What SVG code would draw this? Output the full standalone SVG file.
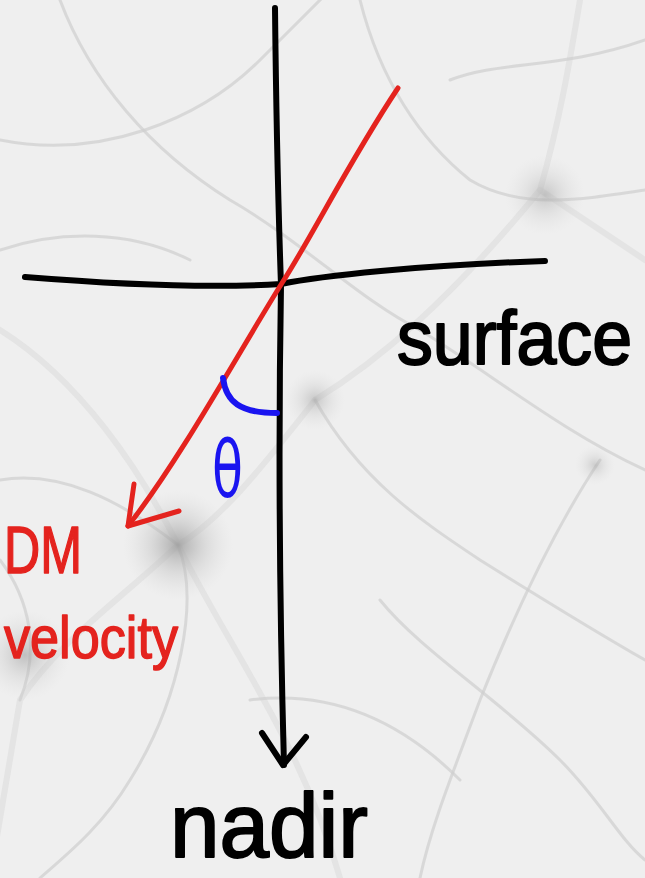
<svg xmlns="http://www.w3.org/2000/svg" width="645" height="878" viewBox="0 0 645 878">
<defs>
<radialGradient id="blob">
<stop offset="0" stop-color="#9a9a9a" stop-opacity="0.8"/>
<stop offset="0.5" stop-color="#bdbdbd" stop-opacity="0.4"/>
<stop offset="1" stop-color="#d8d8d8" stop-opacity="0"/>
</radialGradient>
<style>
.web{fill:none;stroke:#cfcfcf;stroke-width:3;stroke-linecap:round;opacity:0.7}
.web2{fill:none;stroke:#dcdcdc;stroke-width:6;stroke-linecap:round;opacity:0.6}
.ink{fill:none;stroke-linecap:round;stroke-linejoin:round}
.black{stroke:#000;stroke-width:6}
.red{stroke:#e4231e;stroke-width:5}
.blue{stroke:#1a14f0;stroke-width:6}
.hand{font-family:"Liberation Sans","Arial",sans-serif;stroke-linejoin:round}
</style>
</defs>
<g id="background">
<rect width="645" height="878" fill="#efefef"/>
<path class="web2" d="M0,330 C80,380 140,470 178,545 C220,520 260,470 315,400"/>
<path class="web2" d="M178,545 C120,600 60,640 20,700 C10,760 0,820 -10,878"/>
<path class="web2" d="M315,400 C380,360 450,300 540,190 C560,120 570,60 580,0"/>
<path class="web2" d="M540,190 C600,230 630,250 645,260"/>
<path class="web2" d="M178,545 C230,650 300,740 340,878"/>
<path class="web" d="M0,140 C100,160 200,120 260,60 C300,20 320,0 330,-10"/>
<path class="web" d="M60,0 C90,80 150,150 230,200 C300,240 360,300 420,330"/>
<path class="web" d="M420,330 C500,380 560,430 645,470"/>
<path class="web" d="M600,460 C560,520 520,600 480,700 C450,780 430,830 420,878"/>
<path class="web" d="M315,400 C360,480 420,520 480,560 C560,610 610,640 645,660"/>
<path class="web" d="M0,480 C60,470 120,500 178,545"/>
<path class="web" d="M178,545 C200,600 180,700 130,780 C100,830 60,860 40,878"/>
<path class="web" d="M360,0 C380,80 420,140 470,180 C520,210 580,200 645,190"/>
<path class="web" d="M0,250 C60,230 130,230 190,260"/>
<path class="web" d="M380,600 C420,650 500,700 560,760 C600,800 620,840 645,860"/>
<path class="web" d="M250,700 C330,690 400,720 460,780"/>
<path class="web" d="M450,80 C500,60 560,70 645,40"/>
<path class="web" d="M0,560 C30,600 40,650 20,700"/>
<circle cx="178" cy="545" r="55" fill="url(#blob)"/>
<circle cx="315" cy="400" r="30" fill="url(#blob)" opacity="0.6"/>
<circle cx="545" cy="195" r="40" fill="url(#blob)" opacity="0.6"/>
<circle cx="25" cy="655" r="45" fill="url(#blob)" opacity="0.7"/>
<circle cx="595" cy="465" r="20" fill="url(#blob)" opacity="0.5"/>
</g>
<g id="connectors">
<path id="horizontal-surface" class="ink black" d="M25,277 C100,283 200,289 281,284 C320,276 420,265 545,261"/>
<path id="vertical-nadir" class="ink black" d="M275,8 C276,100 278,200 281,285 C279,400 278,550 284,765"/>
<path id="nadir-arrowhead" class="ink black" d="M262,733 L283,765 L306,737"/>
<path id="dm-velocity-line" class="ink red" d="M398,88 C350,160 310,240 282,283 C240,350 180,460 128,526"/>
<path id="dm-arrowhead" class="ink red" d="M134,484 L128,526 L179,511"/>
<path id="angle-arc" class="ink blue" d="M223,378 C226,402 240,413 277,413"/>
</g>
<g id="label-surface">
<text class="hand" x="397" y="364" font-size="76" textLength="235" lengthAdjust="spacingAndGlyphs" fill="#000" stroke="#000" stroke-width="2">surface</text>
</g>
<g id="label-nadir">
<text class="hand" x="170" y="857" font-size="90" textLength="198" lengthAdjust="spacingAndGlyphs" fill="#000" stroke="#000" stroke-width="2">nadir</text>
</g>
<g id="label-theta">
<text class="hand" x="212" y="497" font-size="78" textLength="31" lengthAdjust="spacingAndGlyphs" fill="#1a14f0" style="font-family:'DejaVu Sans',sans-serif">θ</text>
</g>
<g id="label-dm-velocity">
<text class="hand" x="4" y="573" font-size="66" textLength="78" lengthAdjust="spacingAndGlyphs" fill="#e4231e" stroke="#e4231e" stroke-width="1.5">DM</text>
<text class="hand" x="4" y="658" font-size="60" textLength="174" lengthAdjust="spacingAndGlyphs" fill="#e4231e" stroke="#e4231e" stroke-width="1.5">velocity</text>
</g>
</svg>
